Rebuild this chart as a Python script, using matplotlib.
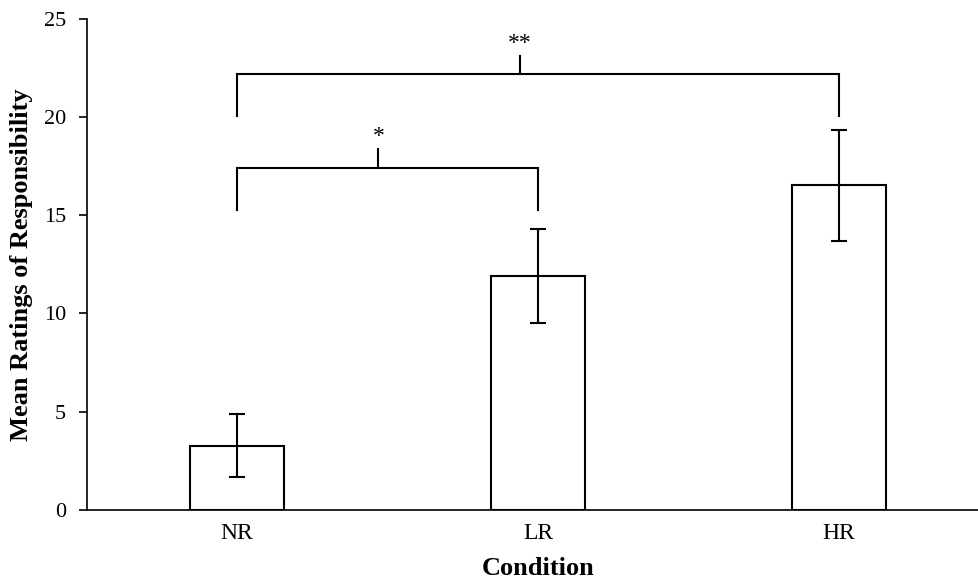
import matplotlib
matplotlib.use("Agg")
import matplotlib.pyplot as plt
import matplotlib.transforms as mtransforms

# data
conditions = ["NR", "LR", "HR"]
means = [3.28, 11.91, 16.51]
errors = [1.61, 2.38, 2.82]

# significance brackets: (left idx, right idx, bar height, leg bottom, tick x, label)
brackets = [
    (0, 2, 22.16, 20.02, 0.94, "**"),
    (0, 1, 17.42, 15.28, 0.47, "*"),
]

plt.rcParams["font.family"] = ["Liberation Serif", "DejaVu Serif"]

fig = plt.figure(figsize=(9.79, 5.84), dpi=100)
ax = fig.add_axes([0.0889, 0.1267, 0.9111, 0.8415])

x = range(len(conditions))
ax.bar(x, means, width=0.315, color="white", edgecolor="black", linewidth=1.5, zorder=2)
ax.errorbar(x, means, yerr=errors, fmt="none", ecolor="black", elinewidth=1.5,
            capsize=5.5, capthick=1.5, zorder=3)

for i, j, top, leg, tx, label in brackets:
    ax.plot([i, i, j, j], [leg, top, top, leg], color="black", lw=1.5,
            solid_joinstyle="miter", clip_on=False)
    ax.plot([tx, tx], [top, top + 0.95], color="black", lw=1.5, clip_on=False)
    ax.text(tx, top + 1.05, label, ha="center", va="bottom", fontsize=17)

ax.set_xlim(-0.498, 2.465)
ax.set_ylim(0, 25)
ax.set_yticks([0, 5, 10, 15, 20, 25])
ax.set_xticks(list(x))
ax.set_xticklabels(conditions)
ax.tick_params(axis="x", length=0, labelsize=17, pad=9)
ax.tick_params(axis="y", length=6, width=1.2, labelsize=16, direction="out", pad=9)

for side in ["top", "right"]:
    ax.spines[side].set_visible(False)
ax.spines["left"].set_linewidth(1.2)
ax.spines["bottom"].set_linewidth(1.2)

# "Condition" sits under the middle bar, not the axes centre
trans = mtransforms.blended_transform_factory(ax.transData, fig.transFigure)
fig.text(1, 1 - 575 / 584, "Condition", transform=trans, ha="center", va="baseline",
         fontsize=19, fontweight="bold")
ax.set_ylabel("Mean Ratings of Responsibility", fontsize=19, fontweight="bold", labelpad=8)

fig.savefig("out.png", dpi=100)
